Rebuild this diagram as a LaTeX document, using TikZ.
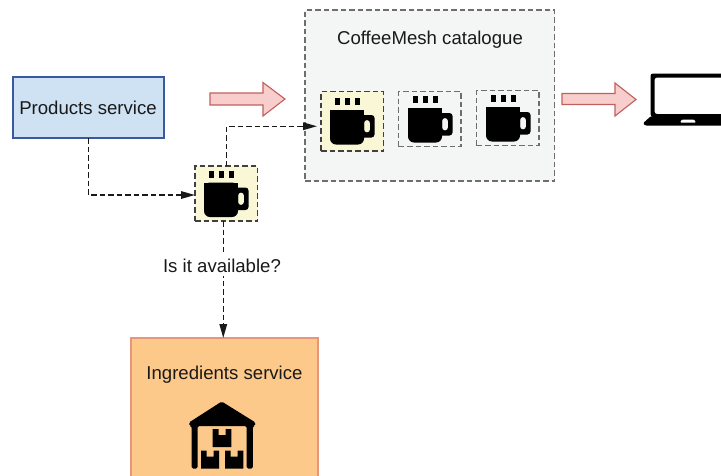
\documentclass[tikz,border=0pt]{standalone}
\usepackage{fontspec}
\setmainfont{Liberation Sans}
\usetikzlibrary{arrows.meta,positioning}
\definecolor{blueF}{HTML}{CFE2F3}
\definecolor{blueS}{HTML}{3A5AA0}
\definecolor{orangeF}{HTML}{FDC98A}
\definecolor{orangeS}{HTML}{E8957A}
\definecolor{creamF}{HTML}{F9F7D6}
\definecolor{greyF}{HTML}{F4F6F5}
\definecolor{greyS}{HTML}{6E6E6E}
\definecolor{redF}{HTML}{F8CECC}
\definecolor{redS}{HTML}{C0605C}
\tikzset{
  x=1pt,y=-1pt,
  every node/.style={font=\fontsize{18.6}{22}\selectfont,text=black!90,inner sep=0pt,outer sep=0pt},
  service/.style={draw,line width=1.4pt,minimum width=#1,anchor=north west},
  dashline/.style={line width=1.5pt,dash pattern=on 5.5pt off 3pt},
  cupbox/.style={draw=black!75,fill=creamF,dashline,anchor=north west,minimum width=62.5pt},
  cupboxg/.style={draw=greyS,fill=greyF,dashline,anchor=north west,minimum width=62.5pt},
  flow/.style={black!90,dashline,-{Triangle[length=14pt,width=7.5pt]}},
  blockarrow/.style={draw=redS,fill=redF,line width=1.1pt,line join=miter},
  pics/cup/.style={code={
    \fill[black] (5,-12) rectangle (10,-5);
    \fill[black] (15,-12) rectangle (20,-5);
    \fill[black] (24.5,-12) rectangle (30,-5);
    \fill[black,even odd rule,rounded corners=3pt]
      (30,5) -- (44.5,5) -- (44.5,27.5) -- (30,27.5) -- cycle
      (34,10) -- (40,10) -- (40,22.5) -- (34,22.5) -- cycle;
    \fill[black,rounded corners=6pt] (0,0) -- (34,0) -- (34,34.5) -- (0,34.5) -- cycle;
    \fill[black] (0,0) rectangle (34,8);
  }}
}
\begin{document}
\begin{tikzpicture}
\useasboundingbox (0,0) rectangle (721,475);
\clip (0,0) rectangle (721,475);

\node[cupboxg,minimum width=249.5pt,minimum height=171pt] (catalogue) at (305,10) {};
\node[anchor=center] (cattitle) at (430,39.5) {CoffeeMesh catalogue};

\node[service=151pt,fill=blueF,draw=blueS,minimum height=61pt] (products) at (13,77) {};
\node[anchor=center] (prodtitle) at (88,108) {Products service};

\node[cupbox,minimum height=59.5pt] (cupA) at (321,91.5) {};
\node[cupboxg,minimum height=55pt] (cupB) at (398.5,91.5) {};
\node[cupboxg,minimum height=55pt] (cupC) at (476.5,90.5) {};
\node[cupbox,minimum height=55pt] (cupM) at (195,166) {};
\pic at (330,110) {cup};
\pic at (408,108) {cup};
\pic at (486,107) {cup};
\pic at (204,182.5) {cup};

\node[service=187pt,fill=orangeF,draw=orangeS,minimum height=160pt] (ingredients) at (131,338) {};
\node[anchor=center] (ingtitle) at (224.5,375) {Ingredients service};

% connectors
\draw[flow] (products.south) |- ([yshift=-1.5pt]cupM.west);
\draw[flow] (cupM.north) |- ([xshift=-4pt,yshift=-5pt]cupA.west);
\draw[flow] ([xshift=-3pt]cupM.south) -- ([xshift=-3pt]cupM.south |- ingredients.north);
\node[fill=white,inner xsep=2pt,inner ysep=4pt] (avail) at (222,265.5) {Is it available?};

% block arrows
\draw[blockarrow] (210,93) -- (263,93) -- (263,82.5) -- (285,99) -- (263,116) -- (263,105) -- (210,105) -- cycle;
\draw[blockarrow] (562,93.5) -- (615,93.5) -- (615,83) -- (636,99.5) -- (615,116) -- (615,104.5) -- (562,104.5) -- cycle;

% laptop
\fill[black,even odd rule,rounded corners=2.5pt]
  (650.5,116.5) -- (650.5,73.5) -- (730,73.5) -- (730,116.5) -- cycle
  (654.5,77.5) -- (730,77.5) -- (730,114) -- (654.5,114) -- cycle;
\fill[black,rounded corners=1.5pt] (651,116) -- (730,116) -- (730,125.5) -- (645,125.5) -- (642.8,123.5) -- cycle;
\fill[white,rounded corners=1pt] (682,119.5) -- (694,119.5) -- (696,122.5) -- (680,122.5) -- cycle;

% warehouse
\fill[black,rounded corners=1.5pt] (221.7,401.5) -- (255.5,422.5) -- (255,426) -- (252.8,426) -- (252.8,468.5) -- (246.7,468.5) -- (246.7,426) -- (197.7,426) -- (197.7,468.5) -- (191.7,468.5) -- (191.7,426) -- (189.5,426) -- (189,422.5) -- cycle;
\fill[black] (212.7,429) -- (218.7,429) -- (218.7,435) -- (225.5,435) -- (225.5,429) -- (231.3,429) -- (231.3,447) -- (212.7,447) -- cycle;
\fill[black] (201,450.7) -- (206.7,450.7) -- (206.7,456.5) -- (213.5,456.5) -- (213.5,450.7) -- (219.2,450.7) -- (219.2,468.5) -- (201,468.5) -- cycle;
\fill[black] (225,450.7) -- (230.7,450.7) -- (230.7,456.5) -- (237.5,456.5) -- (237.5,450.7) -- (243.3,450.7) -- (243.3,468.5) -- (225,468.5) -- cycle;
\end{tikzpicture}
\end{document}
